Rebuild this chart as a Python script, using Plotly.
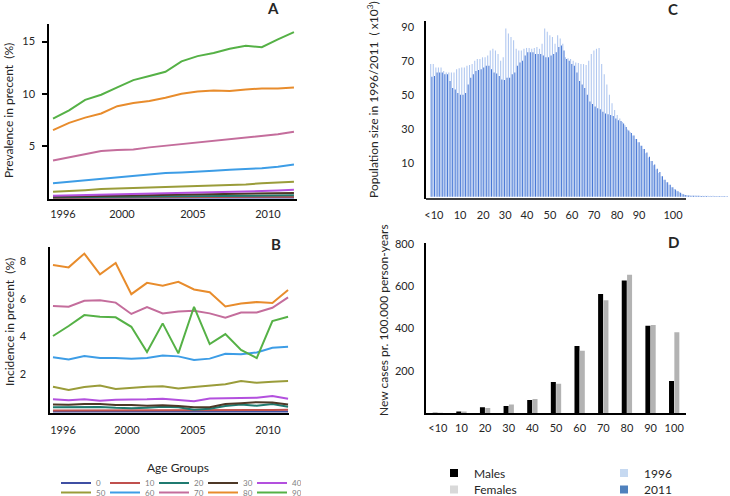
import plotly.graph_objects as go

# ---------------- data ----------------
years = list(range(1996, 2012))
age_groups = ["0", "10", "20", "30", "40", "50", "60", "70", "80", "90"]
group_colors = ["#3f4fa3", "#c0504d", "#1f7a70", "#4d3826", "#b350de",
                "#9a9c3a", "#3d9de6", "#c46d9c", "#e88c2c", "#55b146"]

# Panel A: prevalence (%)
prev_0 = [0.01, 0.01, 0.012, 0.013, 0.015, 0.016, 0.018, 0.02, 0.021, 0.023, 0.025, 0.027, 0.03, 0.032, 0.035, 0.04]
prev_10 = [0.03, 0.035, 0.04, 0.045, 0.05, 0.055, 0.06, 0.065, 0.07, 0.075, 0.08, 0.085, 0.09, 0.1, 0.11, 0.12]
prev_20 = [0.06, 0.07, 0.08, 0.09, 0.1, 0.11, 0.12, 0.13, 0.14, 0.15, 0.16, 0.17, 0.19, 0.21, 0.23, 0.25]
prev_30 = [0.12, 0.14, 0.16, 0.18, 0.2, 0.22, 0.24, 0.27, 0.29, 0.31, 0.33, 0.36, 0.38, 0.41, 0.44, 0.48]
prev_40 = [0.22, 0.25, 0.28, 0.31, 0.34, 0.37, 0.40, 0.44, 0.47, 0.51, 0.54, 0.58, 0.62, 0.66, 0.71, 0.78]
prev_50 = [0.6, 0.65, 0.75, 0.85, 0.9, 0.93, 1.0, 1.05, 1.08, 1.1, 1.15, 1.2, 1.3, 1.4, 1.45, 1.55]
prev_60 = [1.4, 1.55, 1.7, 1.85, 2.0, 2.15, 2.25, 2.4, 2.45, 2.5, 2.6, 2.7, 2.75, 2.85, 3.0, 3.2]
prev_70 = [3.6, 3.9, 4.2, 4.5, 4.6, 4.65, 4.85, 5.0, 5.15, 5.3, 5.5, 5.6, 5.8, 5.95, 6.1, 6.35]
prev_80 = [6.5, 7.2, 7.7, 8.1, 8.8, 9.1, 9.3, 9.6, 10.0, 10.2, 10.3, 10.25, 10.4, 10.5, 10.5, 10.6]
prev_90 = [7.6, 8.4, 9.4, 9.9, 10.6, 11.3, 11.7, 12.1, 13.1, 13.6, 13.9, 14.3, 14.6, 14.45, 15.2, 15.9]

# Panel B: incidence (%)
inc_0 = [0.02, 0.02, 0.02, 0.02, 0.02, 0.02, 0.02, 0.02, 0.02, 0.02, 0.02, 0.02, 0.03, 0.03, 0.03, 0.03]
inc_10 = [0.08, 0.08, 0.09, 0.08, 0.08, 0.07, 0.08, 0.09, 0.08, 0.07, 0.08, 0.09, 0.10, 0.10, 0.11, 0.12]
inc_20 = [0.25, 0.25, 0.28, 0.27, 0.22, 0.20, 0.23, 0.28, 0.25, 0.12, 0.17, 0.32, 0.40, 0.33, 0.42, 0.28]
inc_30 = [0.40, 0.38, 0.42, 0.42, 0.37, 0.37, 0.33, 0.36, 0.32, 0.25, 0.25, 0.42, 0.47, 0.52, 0.50, 0.40]
inc_40 = [0.67, 0.62, 0.67, 0.60, 0.65, 0.65, 0.67, 0.70, 0.65, 0.57, 0.72, 0.74, 0.76, 0.76, 0.85, 0.70]
inc_50 = [1.34, 1.17, 1.33, 1.41, 1.22, 1.29, 1.34, 1.36, 1.25, 1.33, 1.40, 1.47, 1.64, 1.55, 1.60, 1.64]
inc_60 = [2.90, 2.79, 2.97, 2.86, 2.86, 2.83, 2.86, 2.99, 2.95, 2.76, 2.83, 3.09, 3.06, 3.16, 3.41, 3.46]
inc_70 = [5.62, 5.58, 5.90, 5.92, 5.80, 5.20, 5.57, 5.23, 5.33, 5.37, 5.23, 5.00, 5.28, 5.28, 5.53, 6.08]
inc_80 = [7.80, 7.67, 8.40, 7.30, 7.90, 6.25, 6.85, 6.70, 6.90, 6.50, 6.35, 5.60, 5.75, 5.83, 5.78, 6.47]
inc_90 = [4.03, 4.56, 5.14, 5.05, 5.02, 4.52, 3.18, 4.70, 3.11, 5.58, 3.60, 4.13, 3.29, 2.86, 4.82, 5.05]

prevalence = [prev_0, prev_10, prev_20, prev_30, prev_40, prev_50, prev_60, prev_70, prev_80, prev_90]
incidence = [inc_0, inc_10, inc_20, inc_30, inc_40, inc_50, inc_60, inc_70, inc_80, inc_90]

year_tick_text = ["1996", "2000", "2005", "2010"]
a_tick_pos = [1996.62, 2000.29, 2004.71, 2009.38]
b_tick_pos = [1996.64, 2000.72, 2004.93, 2009.72]

# Panel C: population size by single year of age (x1000)
ages = list(range(115))
pop_1996 = [78, 78, 76, 76, 76, 74, 73, 73, 73, 73,
            75, 75.5, 76, 76, 77, 77.5, 78, 80, 81, 81,
            82, 82, 83, 86, 87, 86, 84, 80, 82, 99,
            96, 94, 92, 87, 86, 86, 87, 87.5, 87.5, 87,
            87.5, 88, 87, 90, 99, 97, 95, 94, 90, 95,
            93, 90, 82, 81.5, 81, 80, 79, 78.6, 78, 78,
            77.5, 80, 84, 86, 87, 87.5, 78, 72, 66, 60,
            55, 51, 48, 46, 44, 42, 39.5, 38, 36, 34,
            32, 30, 28, 25.5, 23, 21, 18.5, 16, 14, 12,
            10, 8.5, 7, 5.5, 4.5, 3.5, 2.6, 1.8, 1.2,
            0.9, 0.8, 0.7, 0.7, 0.6, 0.6, 0.6, 0.5, 0.5, 0.5, 0.5, 0.4, 0.4, 0.4, 0.4, 0.3]
pop_2011 = [70.6, 71, 73, 73, 73, 72, 72, 68, 64, 63,
            61, 60, 60, 61, 66, 70, 72, 74, 74.5, 75,
            76, 77, 77, 75, 73, 72.5, 71, 69, 68.6, 70,
            70, 72, 73, 77, 79, 80, 83, 85, 85, 85,
            84, 84, 84, 83, 82, 82, 83, 84, 85, 88,
            89, 86, 81, 80, 78, 77, 73, 68, 66, 64,
            60, 56, 54.5, 53, 52, 51.5, 50, 49, 48.5, 48,
            47.5, 46, 45, 44.5, 43, 41, 39, 37.5, 36, 34,
            32, 30, 28, 26, 23.5, 21, 19, 16.5, 14.5, 12,
            10, 8.5, 7, 5.5, 4.2, 3.2, 2.3, 1.5, 1.0,
            0.7, 0.6, 0.5, 0.5, 0.5, 0.4, 0.4, 0.4, 0.3, 0.3, 0.3, 0.3, 0.3, 0.2, 0.2, 0.2]
c_tick_text = ["<10", "10", "20", "30", "40", "50", "60", "70", "80", "90", "100"]
c_tick_pos = [1.0, 11.1, 20.0, 28.5, 36.9, 45.8, 54.3, 62.8, 71.7, 80.2, 93.3]
c_ytick_text = ["10", "30", "50", "70", "90"]
c_ytick_pos = [20, 40, 60, 80, 100]

# Panel D: new cases per 100.000 person-years
d_cats = ["<10", "10", "20", "30", "40", "50", "60", "70", "80", "90", "100"]
males = [1, 8, 28, 35, 63, 148, 318, 564, 627, 414, 153]
females = [1, 8, 25, 42, 68, 140, 296, 534, 654, 417, 383]

# ---------------- figure ----------------
W, H = 730, 496
def px(x):
    return x / W
def py(y):
    return 1 - y / H

FONT = "Lato, 'Open Sans', sans-serif"
fig = go.Figure()

for i, g in enumerate(age_groups):
    fig.add_trace(go.Scatter(
        x=years, y=prevalence[i], mode="lines", name=g,
        line=dict(color=group_colors[i], width=2),
        xaxis="x", yaxis="y", legend="legend" if i < 5 else "legend2",
        showlegend=True))
for i, g in enumerate(age_groups):
    fig.add_trace(go.Scatter(
        x=years, y=incidence[i], mode="lines", name=g,
        line=dict(color=group_colors[i], width=2),
        xaxis="x2", yaxis="y2", showlegend=False))

c_light = "rgba(176,199,240,0.99)"
c_dark = "rgba(70,118,212,0.99)"
fig.add_trace(go.Bar(x=ages, y=pop_1996, name="1996", marker=dict(color=c_light, line=dict(width=0)),
                     width=0.42, offset=-0.45, xaxis="x3", yaxis="y3", showlegend=False))
fig.add_trace(go.Bar(x=ages, y=pop_2011, name="2011", marker=dict(color=c_dark, line=dict(width=0)),
                     width=0.40, offset=0.03, xaxis="x3", yaxis="y3", showlegend=False))

fig.add_trace(go.Bar(x=d_cats, y=males, name="Males", marker=dict(color="#000000", line=dict(width=0)),
                     xaxis="x4", yaxis="y4", showlegend=False))
fig.add_trace(go.Bar(x=d_cats, y=females, name="Females", marker=dict(color="#b3b3b3", line=dict(width=0)),
                     xaxis="x4", yaxis="y4", showlegend=False))

# legend proxies (small squares)
for name, color, leg in [("Males", "#000000", "legend3"), ("1996", "#c6d9f1", "legend3"),
                         ("Females", "#d9d9d9", "legend4"), ("2011", "#4f81bd", "legend4")]:
    fig.add_trace(go.Scatter(x=[None], y=[None], mode="markers", name=name,
                             marker=dict(symbol="square", size=8, color=color, line=dict(width=0)),
                             xaxis="x4", yaxis="y4", legend=leg, showlegend=True))

axis_common = dict(showgrid=False, zeroline=False, showline=True, linecolor="black", linewidth=1.5,
                   tickfont=dict(size=11, color="#262626"), ticks="")

age_leg = dict(orientation="h", xanchor="left", yanchor="middle",
               entrywidth=4, entrywidthmode="pixels", font=dict(size=8, color="#7f7f7f"),
               bgcolor="rgba(0,0,0,0)", tracegroupgap=0)
sex_leg = dict(orientation="h", xanchor="left", yanchor="middle",
               entrywidth=125, entrywidthmode="pixels", font=dict(size=12, color="#262626"),
               bgcolor="rgba(0,0,0,0)", itemsizing="trace")

fig.update_layout(
    width=W, height=H,
    margin=dict(l=0, r=0, t=0, b=0, autoexpand=False),
    paper_bgcolor="white", plot_bgcolor="white",
    font=dict(family=FONT, size=11, color="#262626"),
    barmode="group", bargap=0.55, bargroupgap=0.06,
    xaxis=dict(axis_common, domain=[px(49), px(297)], range=[1995.75, 2011.19],
               tickvals=a_tick_pos, ticktext=year_tick_text, anchor="y", ticklabelstandoff=4),
    yaxis=dict(axis_common, domain=[py(199), py(24)], range=[-0.1, 16.68],
               tickvals=[5, 10, 15], ticks="outside", ticklen=5, tickwidth=1.5, tickcolor="black",
               anchor="x", ticklabelstandoff=5),
    xaxis2=dict(axis_common, domain=[px(50), px(289)], range=[1995.81, 2011.06],
                tickvals=b_tick_pos, ticktext=year_tick_text, anchor="y2", ticklabelstandoff=6),
    yaxis2=dict(axis_common, domain=[py(413), py(247)], range=[-0.053, 8.75],
                tickvals=[2, 4, 6, 8], anchor="x2", ticklabelstandoff=20),
    xaxis3=dict(axis_common, showline=False, domain=[px(426), px(730)], range=[-2.05, 115.3],
                tickvals=c_tick_pos, ticktext=c_tick_text, anchor="y3", ticklabelstandoff=8),
    yaxis3=dict(axis_common, domain=[py(199), py(21)], range=[-1.35, 103.35],
                tickvals=c_ytick_pos, ticktext=c_ytick_text, anchor="x3", ticklabelstandoff=8),
    xaxis4=dict(axis_common, domain=[px(426), px(686)], type="category", anchor="y4",
                ticklabelstandoff=4),
    yaxis4=dict(axis_common, domain=[py(413.3), py(242.7)], range=[0, 806],
                tickvals=[200, 400, 600, 800], anchor="x4", ticklabelstandoff=8),
    legend=dict(age_leg, x=px(56), y=py(483)),
    legend2=dict(age_leg, x=px(56), y=py(492.5)),
    legend3=dict(sex_leg, x=px(434), y=py(473)),
    legend4=dict(sex_leg, x=px(434), y=py(489.5)),
)

# x-axis line of panel C (stops before the long tail)
fig.add_shape(type="line", xref="x3 domain", yref="y3 domain", x0=0, x1=(686 - 426) / (730 - 426),
              y0=0, y1=0, line=dict(color="black", width=1.5))

annots = [
    dict(text="<b>A</b>", x=px(273), y=py(8), font=dict(size=15)),
    dict(text="<b>B</b>", x=px(276), y=py(244), font=dict(size=15)),
    dict(text="<b>C</b>", x=px(673), y=py(9), font=dict(size=15)),
    dict(text="<b>D</b>", x=px(673), y=py(242), font=dict(size=15)),
    dict(text="Prevalence in precent  (%)", x=px(9), y=py(111), textangle=-90, font=dict(size=12)),
    dict(text="Incidence in precent  (%)", x=px(9), y=py(322), textangle=-90, font=dict(size=12)),
    dict(text="Population size in 1996/2011  ( x10<sup>3</sup>)", x=px(373), y=py(99), textangle=-90,
         font=dict(size=12)),
    dict(text="New cases pr. 100.000 person-years", x=px(383), y=py(320), textangle=-90,
         font=dict(size=12)),
    dict(text="Age Groups", x=px(178), y=py(467), font=dict(size=12)),
]
for a in annots:
    fig.add_annotation(xref="paper", yref="paper", showarrow=False, xanchor="center", yanchor="middle",
                       **a)

# remove the browser's default 8px page margin so the figure fills the window; hide the mode bar
fig.write_html("out.html", config={"displayModeBar": False},
               post_script="document.body.style.margin='0';")
